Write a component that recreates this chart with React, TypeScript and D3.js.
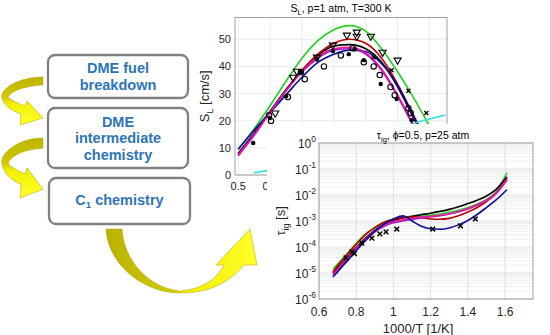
import { useEffect, useRef } from "react";
import * as d3 from "d3";

// ---- S_L, p=1 atm, T=300 K ----
const slPhi = [0.5, 0.55, 0.6, 0.65, 0.7, 0.75, 0.8, 0.85, 0.9, 0.95, 1.0, 1.05, 1.1];
const slGreen = [9.5, 17, 25.5, 34.5, 43, 49.5, 53.5, 55, 53, 46.5, 38, 28.5, 18];
const slRed = [7.5, 15, 23, 31, 38.5, 44.5, 48.5, 50, 48.5, 43, 33.5, 22, 11];
const slBlack = [8, 15.5, 23.5, 31.5, 38.5, 44, 47.5, 48, 46.5, 41.5, 32.5, 21, 10];
const slMagenta = [7, 14.5, 23, 31, 38, 43.5, 46.5, 47, 45, 39, 29.5, 18.5, 8];
const slViolet = [7.5, 15, 23, 31, 38, 43, 46, 46.5, 44.5, 38.5, 29, 18, 8];
const slBlue = [9.5, 16.5, 23, 29.5, 36, 41.5, 44.5, 46, 45.5, 41, 33, 21.5, 10];
const slCyanPhi = [0.55, 0.6, 0.7, 0.8, 0.9, 1.0, 1.06, 1.1, 1.15];
const slCyan = [0.8, 1.8, 4, 7, 10.5, 15, 19.3, 20.6, 22.1];

const slTriPhi = [0.616, 0.672, 0.684, 0.747, 0.797, 0.841, 0.872, 0.872, 0.916, 0.953, 1.0];
const slTri = [22.8, 36, 38.2, 43.4, 47.8, 51.5, 52.6, 51.1, 51.1, 45.2, 42.3];
const slCirPhi = [0.597, 0.603, 0.656, 0.697, 0.709, 0.769, 0.822, 0.859, 0.894, 0.925, 0.944, 0.978, 0.991, 1.034, 1.041];
const slCir = [22, 19.9, 28.7, 37.9, 35.3, 40, 44, 46.7, 41.5, 40, 36.8, 32.4, 29.4, 24.6, 22.8];
const slDotPhi = [0.547, 0.6, 0.65, 0.697, 0.747, 0.797, 0.847, 0.866, 0.894, 0.947, 0.997, 1.044];
const slDot = [11.8, 21, 29, 37.9, 42.6, 45.6, 44.5, 46.3, 42.3, 33.5, 28, 20.2];
const slCrossPhi = [0.925, 0.981, 1.034, 1.09];
const slCross = [43.4, 38.6, 31, 22.8];

const slXTicks = [0.5, 0.6, 0.7, 0.8, 0.9, 1.0, 1.1];
// only the first two x labels peek out from under the second chart
const slXLabels = ["0.5", "0.6"];
const slYTicks = [0, 10, 20, 30, 40, 50];

// ---- tau_ig, phi=0.5, p=25 atm ----
const igX = [0.675, 0.7, 0.75, 0.8, 0.85, 0.9, 0.95, 1.0, 1.05, 1.1, 1.15, 1.2, 1.25, 1.3, 1.35, 1.4, 1.45, 1.5, 1.55, 1.61];
const igGreen = [1.4e-5, 2.2e-5, 5.4e-5, 1.4e-4, 3.2e-4, 5.6e-4, 8.9e-4, 1.17e-3, 1.41e-3, 1.48e-3, 1.51e-3, 1.66e-3, 1.86e-3, 2.2e-3, 2.6e-3, 3.3e-3, 4.5e-3, 6.8e-3, 1.3e-2, 7.1e-2];
const igBlack = [1.0e-5, 1.6e-5, 3.8e-5, 9.5e-5, 2.2e-4, 4.5e-4, 7.6e-4, 1.07e-3, 1.32e-3, 1.51e-3, 1.74e-3, 2.0e-3, 2.34e-3, 2.8e-3, 3.5e-3, 4.7e-3, 6.3e-3, 9.1e-3, 1.6e-2, 5.0e-2];
const igRed = [1.1e-5, 1.9e-5, 5.0e-5, 1.26e-4, 3.0e-4, 5.6e-4, 8.9e-4, 1.17e-3, 1.38e-3, 1.41e-3, 1.35e-3, 1.2e-3, 1.17e-3, 1.26e-3, 1.58e-3, 2.2e-3, 3.3e-3, 5.6e-3, 1.12e-2, 4.5e-2];
const igMagenta = [8.9e-6, 1.4e-5, 3.5e-5, 8.9e-5, 2.0e-4, 4.2e-4, 7.1e-4, 9.5e-4, 1.12e-3, 1.26e-3, 1.41e-3, 1.51e-3, 1.66e-3, 1.9e-3, 2.3e-3, 3.0e-3, 4.2e-3, 6.3e-3, 1.17e-2, 4.0e-2];
const igViolet = [8.5e-6, 1.3e-5, 3.2e-5, 8.0e-5, 1.8e-4, 3.8e-4, 6.3e-4, 8.5e-4, 1.0e-3, 1.15e-3, 1.3e-3, 1.45e-3, 1.6e-3, 1.85e-3, 2.25e-3, 2.9e-3, 4.0e-3, 6.0e-3, 1.1e-2, 3.8e-2];
const igBlue = [7.1e-6, 1.1e-5, 2.8e-5, 7.1e-5, 1.8e-4, 4.0e-4, 7.6e-4, 1.2e-3, 1.58e-3, 1.0e-3, 6.3e-4, 5.0e-4, 4.8e-4, 5.4e-4, 7.1e-4, 1.05e-3, 1.78e-3, 3.3e-3, 6.3e-3, 1.6e-2];
const igExpX = [0.745, 0.777, 0.79, 0.83, 0.884, 0.927, 0.96, 1.018, 1.211, 1.36, 1.44];
const igExp = [3.8e-5, 6.5e-5, 5.6e-5, 1.4e-4, 2.2e-4, 3.2e-4, 3.8e-4, 4.9e-4, 4.9e-4, 6.5e-4, 1.2e-3];

const igXTicks = [0.6, 0.8, 1, 1.2, 1.4, 1.6];
const igYPowers = [0, -1, -2, -3, -4, -5, -6];

// ---- flowchart ----
const boxLabels = [["DME fuel", "breakdown"], ["DME", "intermediate", "chemistry"], ["C|1| chemistry"]];

const FONT = "'Liberation Sans', Arial, Helvetica, sans-serif";
const C_GREEN = "#22d022";
const C_RED = "#b80000";
const C_BLACK = "#000000";
const C_MAG = "#ea1a9c";
const C_VIO = "#a010cc";
const C_BLUE = "#0c0c9a";
const C_CYAN = "#30e0e0";

function App() {
  const ref = useRef<SVGSVGElement>(null);

  useEffect(() => {
    const svg = d3.select(ref.current);
    svg.selectAll("*").remove();
    svg.append("rect").attr("width", 550).attr("height", 335).attr("fill", "#fff");

    const defs = svg.append("defs");
    const gv = defs.append("linearGradient").attr("id", "gv").attr("x1", 0).attr("y1", 0).attr("x2", 0).attr("y2", 1);
    gv.append("stop").attr("offset", 0).attr("stop-color", "#bdb500");
    gv.append("stop").attr("offset", 0.42).attr("stop-color", "#cfc800");
    gv.append("stop").attr("offset", 0.55).attr("stop-color", "#f4f000");
    gv.append("stop").attr("offset", 1).attr("stop-color", "#ffff30");
    const gh = defs.append("linearGradient").attr("id", "gh").attr("x1", 0).attr("y1", 0).attr("x2", 1).attr("y2", 0);
    gh.append("stop").attr("offset", 0).attr("stop-color", "#b9b100");
    gh.append("stop").attr("offset", 0.45).attr("stop-color", "#d2cc00");
    gh.append("stop").attr("offset", 0.52).attr("stop-color", "#f2ee00");
    gh.append("stop").attr("offset", 1).attr("stop-color", "#ffff2a");

    // ---------- flowchart boxes ----------
    const boxGeo = [
      { x: 48, y: 55, w: 140, h: 43, base: 73 },
      { x: 48, y: 108, w: 140, h: 60, base: 126.5 },
      { x: 49, y: 178, w: 141, h: 46, base: 204.5 },
    ];
    boxLabels.forEach((lines, i) => {
      const b = boxGeo[i];
      svg.append("rect").attr("x", b.x).attr("y", b.y).attr("width", b.w).attr("height", b.h)
        .attr("rx", 7).attr("fill", "#fff").attr("stroke", "#808080").attr("stroke-width", 2.3);
      lines.forEach((ln, j) => {
        const t = svg.append("text").attr("x", b.x + b.w / 2).attr("y", b.base + j * 16.8)
          .attr("text-anchor", "middle").attr("font-family", FONT).attr("font-weight", "bold")
          .attr("font-size", 14.5).attr("fill", "#2e75b6");
        const parts = ln.split("|");
        if (parts.length === 3) {
          t.append("tspan").text(parts[0]);
          t.append("tspan").attr("font-size", 9.5).attr("dy", 3).text(parts[1]);
          t.append("tspan").attr("dy", -3).text(parts[2]);
        } else t.text(ln);
      });
    });

    // ---------- curved arrows ----------
    const smallArrow = (y0: number, s: number) => {
      const p = (x: number, y: number) => `${x},${(y0 + y * s).toFixed(1)}`;
      return `M${p(43, 0)} C${p(20, 0)} ${p(0, 11)} ${p(2, 21)} C${p(4, 29)} ${p(12, 34)} ${p(21, 37)} L${p(20, 48)} L${p(43, 41)} L${p(27, 24)} L${p(25, 29)} C${p(18, 26)} ${p(10, 23)} ${p(8, 20)} C${p(12, 13)} ${p(26, 9)} ${p(43, 8)} Z`;
    };
    [[77, 1], [138, 1.25]].forEach(([y0, s]) => {
      svg.append("path").attr("d", smallArrow(y0, s)).attr("fill", "url(#gv)")
        .attr("stroke", "#a8a200").attr("stroke-width", 0.5);
    });
    svg.append("path")
      .attr("d", "M106,229 L122,229 C124,262 150,288 180,291 C200,289 215,282 224,265 L216,265 L250,229 L257,265 L244,265 C226,286 205,293 180,293 C145,293 108,266 106,229 Z")
      .attr("fill", "url(#gh)").attr("stroke", "#a8a200").attr("stroke-width", 0.5);

    // ---------- top chart: S_L ----------
    const x1 = d3.scaleLinear().domain([0.49, 1.155]).range([235, 447]);
    const y1 = d3.scaleLinear().domain([0, 58]).range([175, 17.5]);
    const g1 = svg.append("g");
    defs.append("clipPath").attr("id", "c1").append("rect")
      .attr("x", x1.range()[0]).attr("y", y1.range()[1])
      .attr("width", x1.range()[1] - x1.range()[0]).attr("height", y1.range()[0] - y1.range()[1]);

    slXTicks.forEach((t) => {
      g1.append("line").attr("x1", x1(t)).attr("x2", x1(t)).attr("y1", y1(0)).attr("y2", y1(58))
        .attr("stroke", "#e2e2e2").attr("stroke-width", 0.7);
    });
    slXLabels.forEach((lab) => {
      g1.append("text").attr("x", x1(+lab)).attr("y", 190).attr("text-anchor", "middle")
        .attr("font-family", FONT).attr("font-size", 11).attr("fill", "#262626").text(lab);
    });
    slYTicks.forEach((t) => {
      g1.append("line").attr("x1", x1.range()[0]).attr("x2", x1.range()[1]).attr("y1", y1(t)).attr("y2", y1(t))
        .attr("stroke", "#e2e2e2").attr("stroke-width", 0.7);
      g1.append("text").attr("x", 231).attr("y", y1(t) + 4).attr("text-anchor", "end")
        .attr("font-family", FONT).attr("font-size", 11).attr("fill", "#262626").text(String(t));
    });
    g1.append("rect").attr("x", x1.range()[0]).attr("y", y1.range()[1])
      .attr("width", x1.range()[1] - x1.range()[0]).attr("height", y1.range()[0] - y1.range()[1])
      .attr("fill", "none").attr("stroke", "#8a8a8a").attr("stroke-width", 0.8);

    const plot1 = g1.append("g").attr("clip-path", "url(#c1)");
    const line1 = d3.line<number>().x((_, i) => x1(slPhi[i])).y((d) => y1(d)).curve(d3.curveMonotoneX);
    [[slGreen, C_GREEN], [slBlack, C_BLACK], [slRed, C_RED], [slBlue, C_BLUE], [slViolet, C_VIO], [slMagenta, C_MAG]]
      .forEach(([vals, col]) => {
        plot1.append("path").attr("d", line1(vals as number[])).attr("fill", "none")
          .attr("stroke", col as string).attr("stroke-width", 1.6);
      });
    const lineCy = d3.line<number>().x((_, i) => x1(slCyanPhi[i])).y((d) => y1(d)).curve(d3.curveMonotoneX);
    plot1.append("path").attr("d", lineCy(slCyan)).attr("fill", "none").attr("stroke", C_CYAN).attr("stroke-width", 1.6);

    const tri = d3.symbol().type(d3.symbolTriangle).size(22)();
    slTri.forEach((v, i) => {
      plot1.append("path").attr("d", tri).attr("transform", `translate(${x1(slTriPhi[i])},${y1(v)}) rotate(180)`)
        .attr("fill", "none").attr("stroke", "#000").attr("stroke-width", 1.1);
    });
    slCir.forEach((v, i) => {
      plot1.append("circle").attr("cx", x1(slCirPhi[i])).attr("cy", y1(v)).attr("r", 2.7)
        .attr("fill", "none").attr("stroke", "#000").attr("stroke-width", 1.1);
    });
    slDot.forEach((v, i) => {
      plot1.append("circle").attr("cx", x1(slDotPhi[i])).attr("cy", y1(v)).attr("r", 2.2).attr("fill", "#000");
    });
    const cross = d3.symbol().type(d3.symbolX).size(12)();
    slCross.forEach((v, i) => {
      plot1.append("path").attr("d", cross).attr("transform", `translate(${x1(slCrossPhi[i])},${y1(v)})`)
        .attr("fill", "none").attr("stroke", "#000").attr("stroke-width", 1.4);
    });

    const t1 = g1.append("text").attr("x", 341).attr("y", 12).attr("text-anchor", "middle")
      .attr("font-family", FONT).attr("font-size", 10.5).attr("fill", "#000");
    t1.append("tspan").text("S");
    t1.append("tspan").attr("font-size", 7.5).attr("dy", 3).text("L");
    t1.append("tspan").attr("dy", -3).text(", p=1 atm, T=300 K");

    const yl1 = g1.append("text").attr("transform", `translate(209,${(y1(0) + y1(58)) / 2}) rotate(-90)`)
      .attr("text-anchor", "middle").attr("font-family", FONT).attr("font-size", 13).attr("fill", "#262626");
    yl1.append("tspan").text("S");
    yl1.append("tspan").attr("font-size", 9).attr("dy", 4).text("L");
    yl1.append("tspan").attr("dy", -4).text(" [cm/s]");

    // ---------- bottom chart: tau_ig ----------
    svg.append("rect").attr("x", 267).attr("y", 124).attr("width", 283).attr("height", 211).attr("fill", "#fff");

    const x2 = d3.scaleLinear().domain([0.6, 1.75]).range([319, 533]);
    const y2 = d3.scaleLog().domain([1e-6, 1]).range([299, 143]);
    const g2 = svg.append("g");
    defs.append("clipPath").attr("id", "c2").append("rect")
      .attr("x", x2.range()[0]).attr("y", y2.range()[1])
      .attr("width", x2.range()[1] - x2.range()[0]).attr("height", y2.range()[0] - y2.range()[1]);

    igYPowers.forEach((p) => {
      if (p < 0) {
        for (let m = 2; m <= 9; m++) {
          const yy = y2(m * Math.pow(10, p));
          g2.append("line").attr("x1", x2.range()[0]).attr("x2", x2.range()[1]).attr("y1", yy).attr("y2", yy)
            .attr("stroke", "#e2e2e2").attr("stroke-width", 0.6);
        }
      }
      const yy = y2(Math.pow(10, p));
      g2.append("line").attr("x1", x2.range()[0]).attr("x2", x2.range()[1]).attr("y1", yy).attr("y2", yy)
        .attr("stroke", "#d6d6d6").attr("stroke-width", 0.7);
      const tl = g2.append("text").attr("x", 316).attr("y", yy + 4.5).attr("text-anchor", "end")
        .attr("font-family", FONT).attr("font-size", 12).attr("fill", "#262626");
      tl.append("tspan").text("10");
      tl.append("tspan").attr("font-size", 8.5).attr("dy", -6).text(String(p));
    });
    igXTicks.forEach((t) => {
      g2.append("line").attr("x1", x2(t)).attr("x2", x2(t)).attr("y1", y2.range()[0]).attr("y2", y2.range()[1])
        .attr("stroke", "#d6d6d6").attr("stroke-width", 0.7);
      g2.append("text").attr("x", x2(t)).attr("y", 316).attr("text-anchor", "middle")
        .attr("font-family", FONT).attr("font-size", 12).attr("fill", "#262626").text(String(t));
    });
    g2.append("rect").attr("x", x2.range()[0]).attr("y", y2.range()[1])
      .attr("width", x2.range()[1] - x2.range()[0]).attr("height", y2.range()[0] - y2.range()[1])
      .attr("fill", "none").attr("stroke", "#8a8a8a").attr("stroke-width", 0.8);

    const plot2 = g2.append("g").attr("clip-path", "url(#c2)");
    const line2 = d3.line<number>().x((_, i) => x2(igX[i])).y((d) => y2(d)).curve(d3.curveMonotoneX);
    [[igGreen, C_GREEN], [igBlack, C_BLACK], [igRed, C_RED], [igViolet, C_VIO], [igMagenta, C_MAG], [igBlue, C_BLUE]]
      .forEach(([vals, col]) => {
        plot2.append("path").attr("d", line2(vals as number[])).attr("fill", "none")
          .attr("stroke", col as string).attr("stroke-width", 1.6);
      });
    const cross2 = d3.symbol().type(d3.symbolX).size(16)();
    igExp.forEach((v, i) => {
      plot2.append("path").attr("d", cross2).attr("transform", `translate(${x2(igExpX[i])},${y2(v)})`)
        .attr("fill", "none").attr("stroke", "#000").attr("stroke-width", 1.5);
    });

    const t2 = g2.append("text").attr("x", 423).attr("y", 139).attr("text-anchor", "middle")
      .attr("font-family", FONT).attr("font-size", 10.5).attr("fill", "#000");
    t2.append("tspan").text("\u03c4");
    t2.append("tspan").attr("font-size", 7.5).attr("dy", 3).text("ig");
    t2.append("tspan").attr("dy", -3).text(", \u03d5=0.5, p=25 atm");

    g2.append("text").attr("x", 418).attr("y", 333).attr("text-anchor", "middle")
      .attr("font-family", FONT).attr("font-size", 13).attr("fill", "#262626").text("1000/T [1/K]");
    const yl2 = g2.append("text").attr("transform", `translate(285,${(y2.range()[0] + y2.range()[1]) / 2}) rotate(-90)`)
      .attr("text-anchor", "middle").attr("font-family", FONT).attr("font-size", 13).attr("fill", "#262626");
    yl2.append("tspan").text("\u03c4");
    yl2.append("tspan").attr("font-size", 9).attr("dy", 4).text("ig");
    yl2.append("tspan").attr("dy", -4).text(" [s]");
  }, []);

  return (
    <svg ref={ref} width={550} height={335}
      style={{ position: "absolute", left: 0, top: 0, display: "block" }} />
  );
}

export default App;
